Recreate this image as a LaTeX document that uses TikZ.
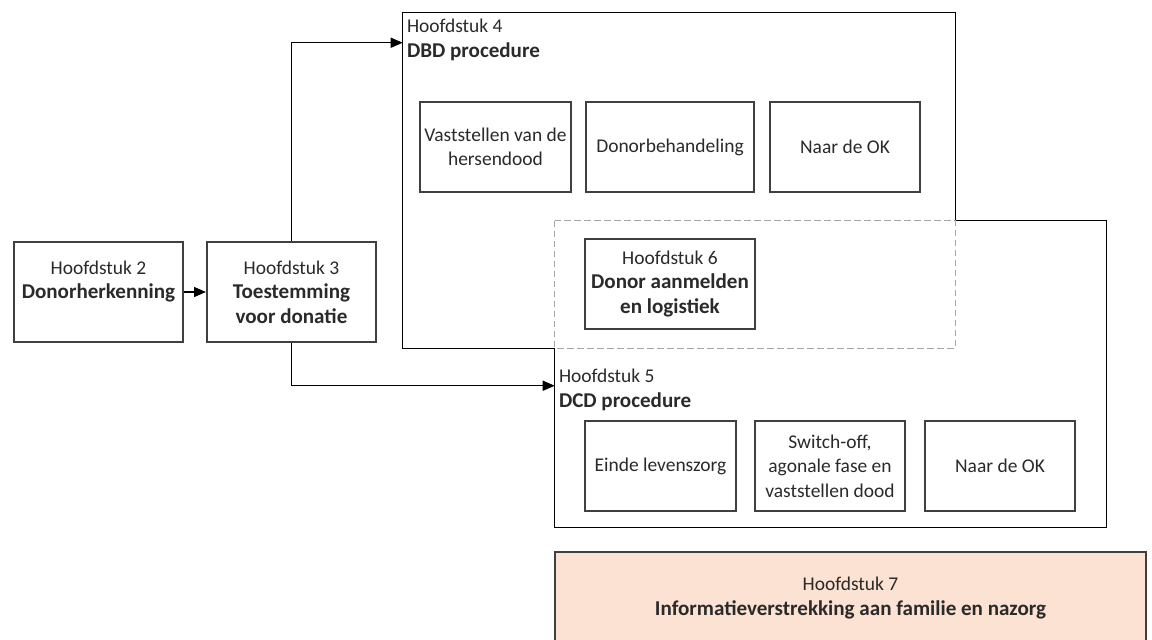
\documentclass[tikz,border=0pt]{standalone}
\usepackage{fontspec}
\setmainfont{Carlito}
\usetikzlibrary{arrows.meta,calc}
\definecolor{peach}{HTML}{FBE2D2}
\definecolor{boxline}{HTML}{404040}
\definecolor{txt}{HTML}{2A2A2A}
\definecolor{dashgray}{HTML}{A6A6A6}
% bold headings run slightly larger than the body text
\newcommand\hb[1]{{\fontsize{15.8}{18.4}\selectfont\bfseries #1}}
\begin{document}
\begin{tikzpicture}[x=0.75pt,y=-0.75pt,
  every node/.style={font=\fontsize{14.6}{18.4}\selectfont, text=txt, align=center, inner sep=0pt},
  size/.style 2 args={minimum width=#1*0.75pt, minimum height=#2*0.75pt},
  chapbox/.style={draw=boxline, line width=1.5pt, fill=white},
  stagebox/.style={draw=boxline, line width=1.5pt, fill=white},
  frame/.style={draw=black, line width=1pt},
  flow/.style={draw=black, line width=1pt, -{Triangle[length=9pt,width=7.5pt]}},
  region/.style={draw=dashgray, line width=0.8pt, dash pattern=on 5pt off 2.5pt, fill=white},
  label/.style={anchor=north west, align=left}]
\useasboundingbox (0,0) rectangle (1152,639);
\clip (0,0) rectangle (1152,639);

% outer procedure frames (geometry only)
\node[size={552}{335}] (dbd) at (679,180.5) {};
\node[size={551}{306}] (dcd) at (830.5,374) {};

% frame outlines; the overlap is left open for the dashed region
\draw[frame] (dbd.east |- dcd.north) -- (dbd.north east) -- (dbd.north west)
  -- (dbd.south west) -- (dcd.west |- dbd.south);
\draw[frame] (dbd.east |- dcd.north) -- (dcd.north east) -- (dcd.south east)
  -- (dcd.south west) -- (dcd.west |- dbd.south);
\draw[region] (dcd.north west) rectangle (dbd.south east);

% frame titles
\node[label] (t4) at ($(dbd.north west)+(4,6)$) {Hoofdstuk 4\\\hb{DBD procedure}};
\node[label] (t5) at ($(dcd.north west)+(4,148)$) {Hoofdstuk 5\\\hb{DCD procedure}};

% chapters 2 and 3
\node[chapbox, size={169}{100}] (h2) at (98.5,292) {Hoofdstuk 2\\\hb{Donorherkenning}\\\mbox{}};
\node[chapbox, size={169}{100}] (h3) at (291.5,292) {Hoofdstuk 3\\\hb{Toestemming}\\\hb{voor donatie}};

% DBD stages
\node[stagebox, size={151}{90}] (dbd1) at (495.5,147) {Vaststellen van de\\hersendood};
\node[stagebox, size={168}{90}] (dbd2) at (670,147) {Donorbehandeling};
\node[stagebox, size={150}{90}] (dbd3) at (845,147) {Naar de OK};

% chapter 6 in the shared region
\node[chapbox, size={170}{90}] (h6) at (670,284) {Hoofdstuk 6\\\hb{Donor aanmelden}\\\hb{en logistiek}};

% DCD stages
\node[stagebox, size={151}{90}] (dcd1) at (660.5,466) {Einde levenszorg};
\node[stagebox, size={150}{90}] (dcd2) at (830,466) {Switch-off,\\agonale fase en\\vaststellen dood};
\node[stagebox, size={150}{90}] (dcd3) at (1000,466) {Naar de OK};

% chapter 7
\node[draw=boxline, line width=1.5pt, fill=peach, size={591}{130}] (h7) at (850.5,617) {};
\node (h7t) at (850.5,598) {Hoofdstuk 7\\\hb{Informatieverstrekking aan familie en nazorg}};

% connectors
\coordinate (in4) at ($(dbd.north west)+(0,30)$);
\coordinate (in5) at ($(dcd.north west)+(0,165)$);
\draw[flow] (h2.east) -- (h3.west);
\draw[flow] (h3.north) |- (in4);
\draw[flow] (h3.south) |- (in5);
\end{tikzpicture}
\end{document}
